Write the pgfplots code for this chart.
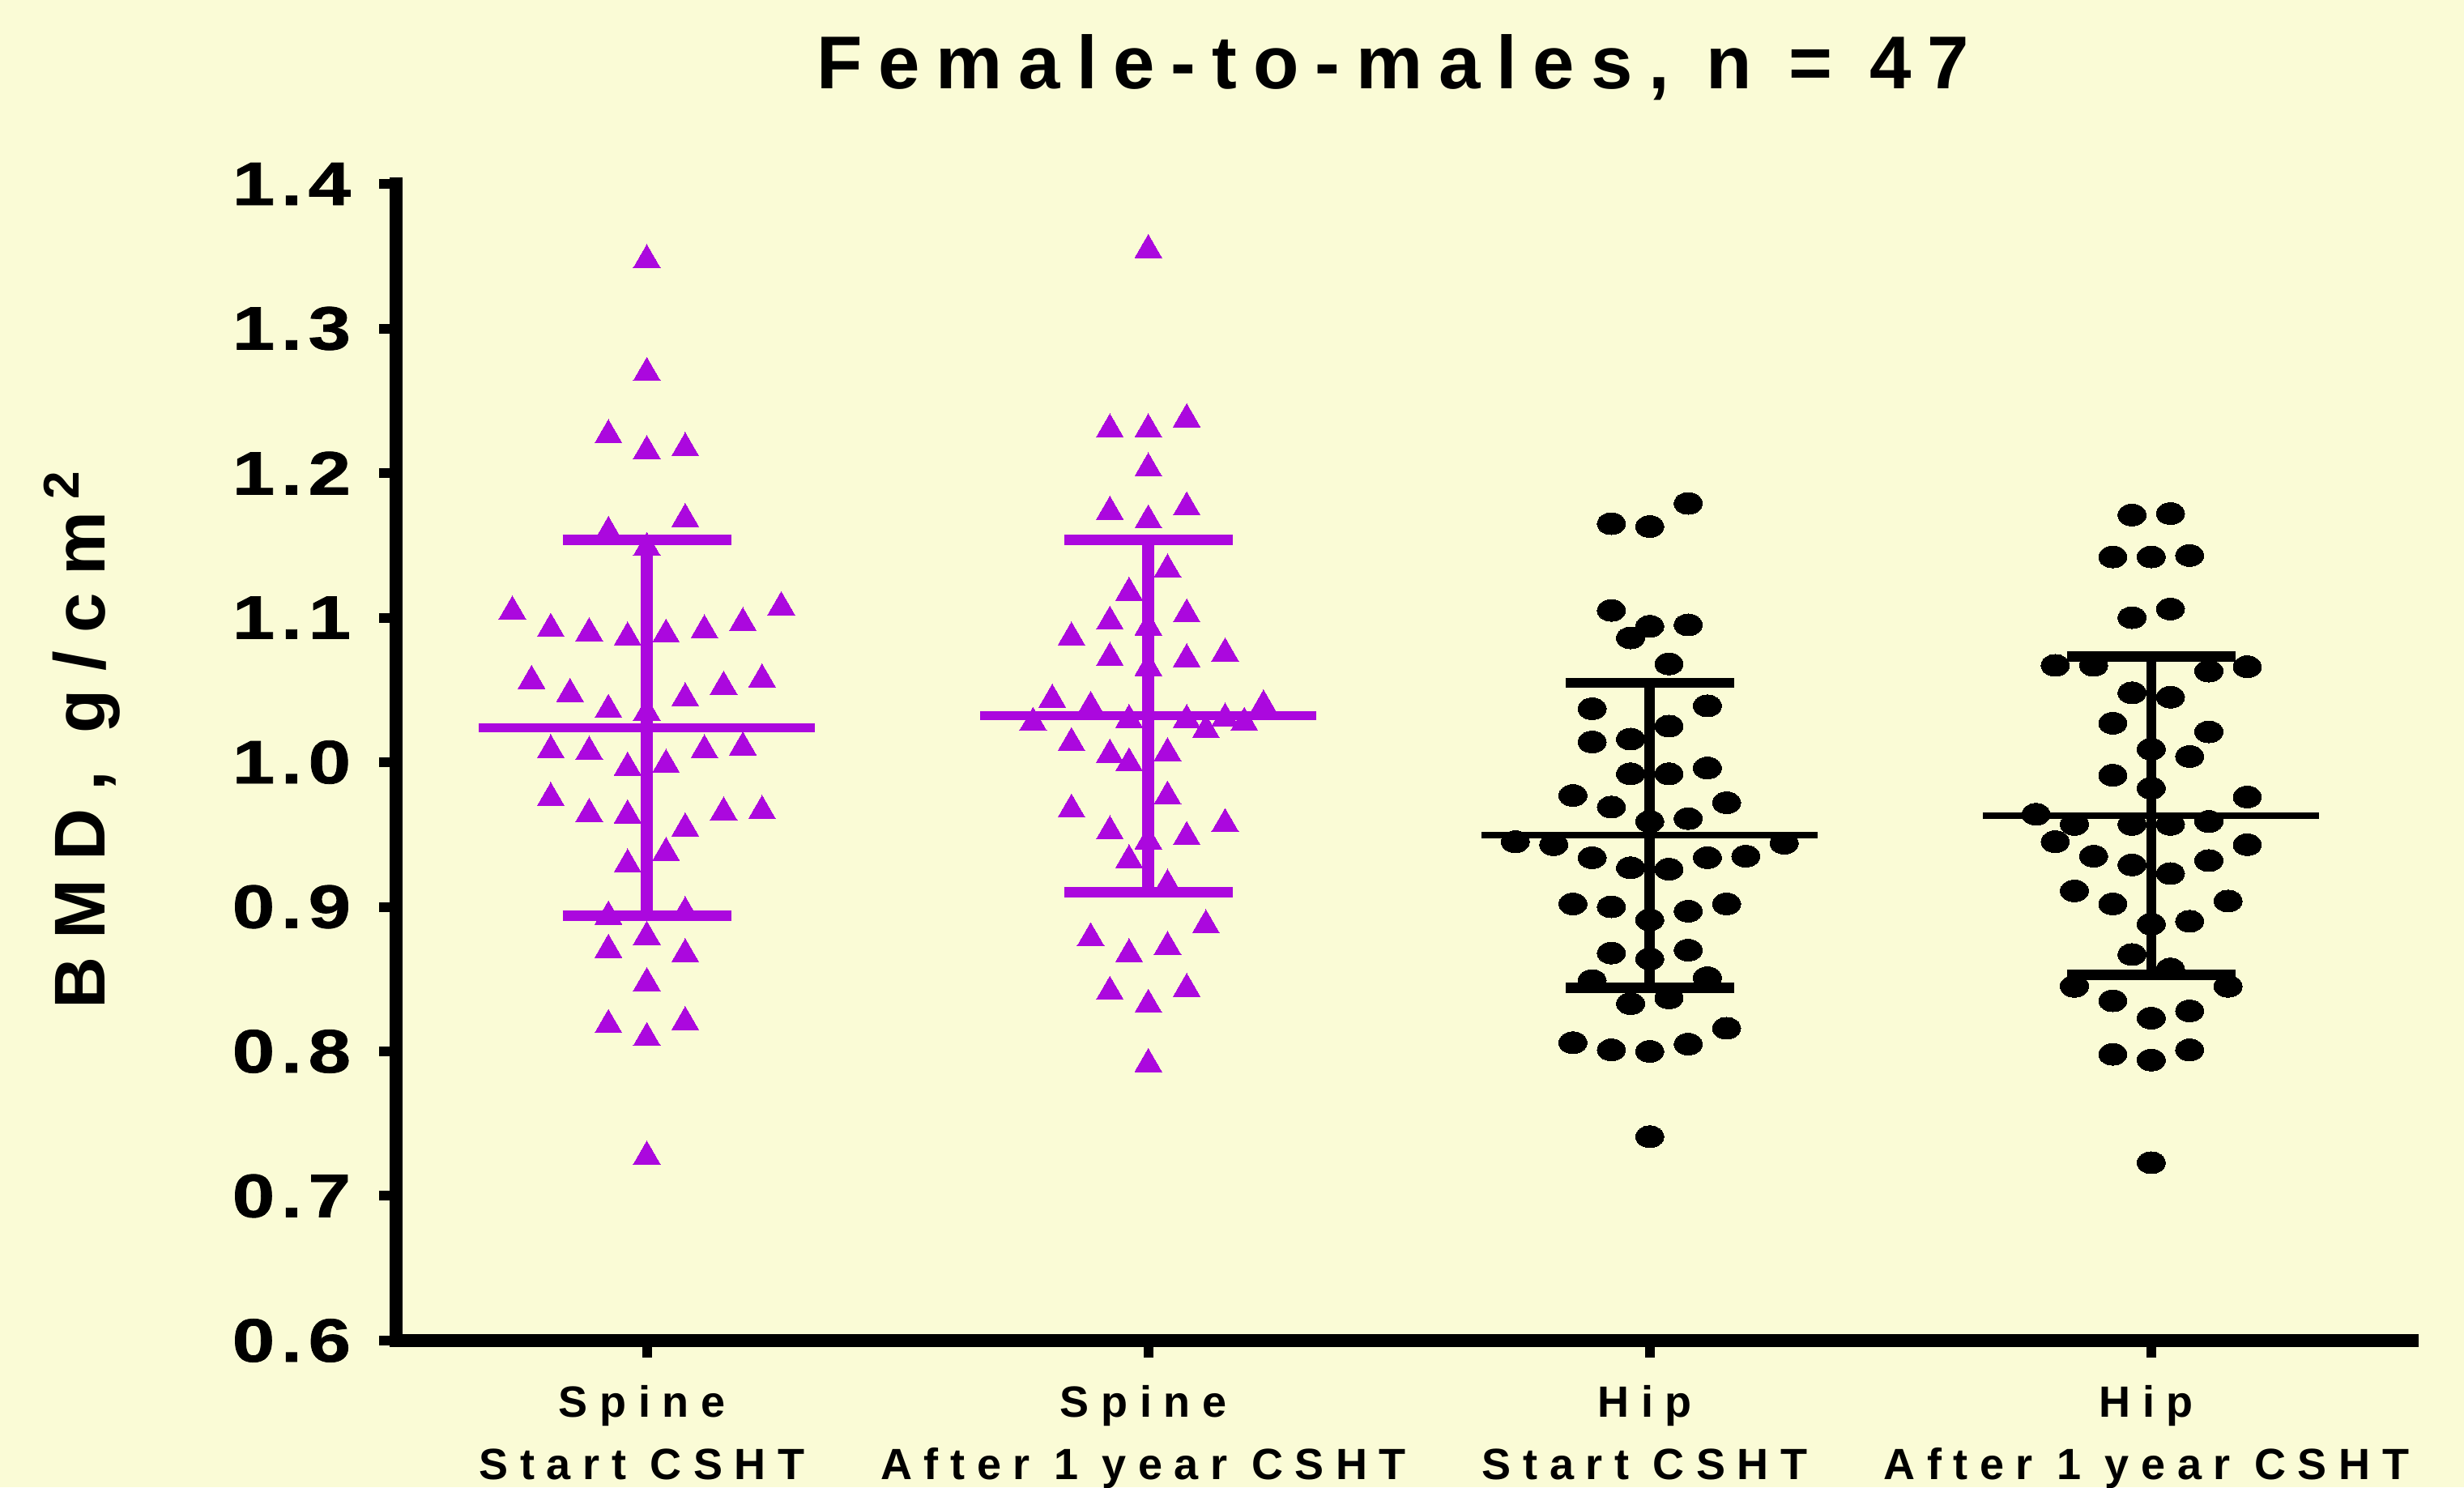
\documentclass[border=0pt]{standalone}
\usepackage{fontspec}
\setmainfont{Liberation Sans}
\newfontfamily\titlefont[LetterSpace=21.5]{Liberation Sans}
\newfontfamily\tickfont[LetterSpace=10,FakeStretch=1.25,FakeBold=1]{Liberation Sans}
\newfontfamily\ylabfont[LetterSpace=25]{Liberation Sans}
\newfontfamily\xlabfont[LetterSpace=27]{Liberation Sans}
\usepackage{pgfplots}
\usepackage{pgfplotstable}
\pgfplotsset{compat=1.18}
\definecolor{bg}{RGB}{250,251,214}
\definecolor{vio}{RGB}{171,8,222}

\pgfplotstableread{
k v
0 1.350
0 1.272
-2 1.229
0 1.218
2 1.220
2 1.171
-2 1.162
0 1.151
-7 1.107
-5 1.095
-3 1.092
-1 1.089
1 1.091
3 1.094
5 1.099
7 1.110
-6 1.059
-4 1.050
-2 1.039
0 1.037
2 1.047
4 1.055
6 1.060
-5 1.011
-3 1.010
3 1.011
5 1.013
-1 0.999
1 1.001
-5 0.978
-3 0.967
-1 0.966
4 0.968
6 0.969
2 0.957
1 0.940
-1 0.932
-2 0.896
2 0.899
0 0.882
-2 0.873
2 0.870
0 0.850
-2 0.821
2 0.823
0 0.812
0 0.730
}\gA

\pgfplotstableread{
k v
0 1.357
-2 1.233
0 1.233
2 1.240
0 1.206
-2 1.176
0 1.170
2 1.179
1 1.136
-1 1.120
-2 1.100
2 1.105
0 1.096
-4 1.089
-2 1.075
2 1.074
4 1.078
0 1.068
-5 1.046
-3 1.041
6 1.042
-6 1.030
-1 1.032
2 1.032
3 1.025
4 1.033
5 1.030
-4 1.016
-2 1.008
-1 1.002
1 1.009
1 0.979
-4 0.970
-2 0.955
4 0.960
2 0.951
0 0.948
-1 0.935
1 0.918
3 0.890
-3 0.881
-1 0.870
1 0.875
-2 0.844
2 0.846
0 0.835
0 0.794
}\gB

\pgfplotstableread{
k v
2 1.179
-2 1.165
0 1.163
-2 1.105
0 1.094
2 1.095
-1 1.086
1 1.068
-3 1.037
3 1.039
1 1.025
-3 1.014
-1 1.016
-1 0.992
1 0.992
3 0.996
-4 0.977
-2 0.969
4 0.972
0 0.959
2 0.961
-7 0.945
-5 0.943
-3 0.934
-1 0.927
1 0.926
3 0.934
5 0.935
7 0.944
-4 0.902
-2 0.900
2 0.897
4 0.902
0 0.891
-2 0.868
2 0.870
0 0.864
-3 0.849
3 0.851
-1 0.833
1 0.837
4 0.816
-4 0.806
-2 0.801
0 0.800
2 0.805
0 0.741
}\gC

\pgfplotstableread{
k v
-1 1.171
1 1.172
-2 1.142
0 1.142
2 1.143
-1 1.100
1 1.106
-5 1.067
-3 1.067
3 1.063
5 1.066
-1 1.048
1 1.045
-2 1.027
3 1.021
0 1.009
2 1.004
-2 0.991
0 0.982
5 0.976
-6 0.964
-4 0.957
-1 0.957
1 0.957
3 0.959
-5 0.945
-3 0.935
-1 0.929
5 0.943
3 0.932
1 0.923
-4 0.911
4 0.904
-2 0.902
0 0.888
2 0.890
-1 0.867
1 0.857
-4 0.845
4 0.845
-2 0.835
0 0.823
2 0.828
-2 0.798
0 0.794
2 0.801
0 0.723
}\gD

\begin{document}
\begin{tikzpicture}
\path[fill=bg, use as bounding box] (0,0) rectangle (507pt,306pt);
\begin{axis}[
  at={(81.5pt,30.17pt)}, anchor=south west,
  scale only axis, width=414.8pt, height=238pt,
  xmin=0.5, xmax=4.52, ymin=0.6, ymax=1.4,
  clip=false,
  axis x line*=bottom, axis y line*=left,
  axis line style={line width=2.8pt, line cap=rect, -},
  tick align=outside,
  major tick length=3.5pt,
  tick style={black, line width=2pt},
  minor tick num=0,
  xtick={1,2,3,4},
  xticklabels={{Spine\\Start CSHT},{Spine\\After 1 year CSHT},{Hip\\Start CSHT},{Hip\\After 1 year CSHT}},
  xticklabel style={align=center, anchor=north, inner sep=0pt, yshift=-5.6pt, xshift=-1pt,
    font=\xlabfont\bfseries\fontsize{9}{12.7}\selectfont},
  ytick={0.6,0.7,0.8,0.9,1.0,1.1,1.2,1.3,1.4},
  yticklabels={0.6,0.7,0.8,0.9,1.0,1.1,1.2,1.3,1.4},
  yticklabel style={anchor=east, inner sep=0pt, xshift=-5.6pt,
    font=\tickfont\bfseries\fontsize{12.6}{14}\selectfont},
]
% points
\addplot[only marks, mark=triangle*, mark size=3.2pt, color=vio, mark options={yshift=-0.8pt, line width=0pt}]
  table[x expr=1+\thisrow{k}*0.0383, y=v]{\gA};
\addplot[only marks, mark=triangle*, mark size=3.2pt, color=vio, mark options={yshift=-0.8pt, line width=0pt}]
  table[x expr=2+\thisrow{k}*0.0383, y=v]{\gB};
\addplot[only marks, mark=*, mark size=2.25pt, color=black, mark options={xscale=1.29, line width=0pt}]
  table[x expr=3+\thisrow{k}*0.0383, y=v]{\gC};
\addplot[only marks, mark=*, mark size=2.25pt, color=black, mark options={xscale=1.29, line width=0pt}]
  table[x expr=4+\thisrow{k}*0.0383, y=v]{\gD};
% group 1 mean and SD
\addplot[vio, line width=1.8pt, mark=none] coordinates {(0.665,1.024) (1.335,1.024)};
\addplot[vio, line width=2.6pt, mark=none] coordinates {(1,0.894) (1,1.154)};
\addplot[vio, line width=2.2pt, mark=none, unbounded coords=jump] coordinates {(0.832,1.154) (1.168,1.154) (1,nan) (0.832,0.894) (1.168,0.894)};
% group 2
\addplot[vio, line width=1.8pt, mark=none] coordinates {(1.665,1.032) (2.335,1.032)};
\addplot[vio, line width=2.6pt, mark=none] coordinates {(2,0.910) (2,1.154)};
\addplot[vio, line width=2.2pt, mark=none, unbounded coords=jump] coordinates {(1.832,1.154) (2.168,1.154) (2,nan) (1.832,0.910) (2.168,0.910)};
% group 3
\addplot[black, line width=1.35pt, mark=none] coordinates {(2.665,0.9495) (3.335,0.9495)};
\addplot[black, line width=2.1pt, mark=none] coordinates {(3,0.844) (3,1.055)};
\addplot[black, line width=2.1pt, mark=none, unbounded coords=jump] coordinates {(2.832,1.055) (3.168,1.055) (3,nan) (2.832,0.844) (3.168,0.844)};
% group 4
\addplot[black, line width=1.35pt, mark=none] coordinates {(3.665,0.963) (4.335,0.963)};
\addplot[black, line width=2.1pt, mark=none] coordinates {(4,0.853) (4,1.073)};
\addplot[black, line width=2.1pt, mark=none, unbounded coords=jump] coordinates {(3.832,1.073) (4.168,1.073) (4,nan) (3.832,0.853) (4.168,0.853)};
\end{axis}
\node[anchor=base, inner sep=0pt, font=\titlefont\bfseries\fontsize{15.4}{17}\selectfont] at (286.6pt,287.8pt) {Female-to-males, n = 47};
\node[rotate=90, anchor=base, inner sep=0pt, font=\ylabfont\bfseries\fontsize{14.8}{16}\selectfont] at (21.5pt,154pt) {BMD, g/cm\hspace{2.5pt}\textsuperscript{2}};
\end{tikzpicture}
\end{document}
